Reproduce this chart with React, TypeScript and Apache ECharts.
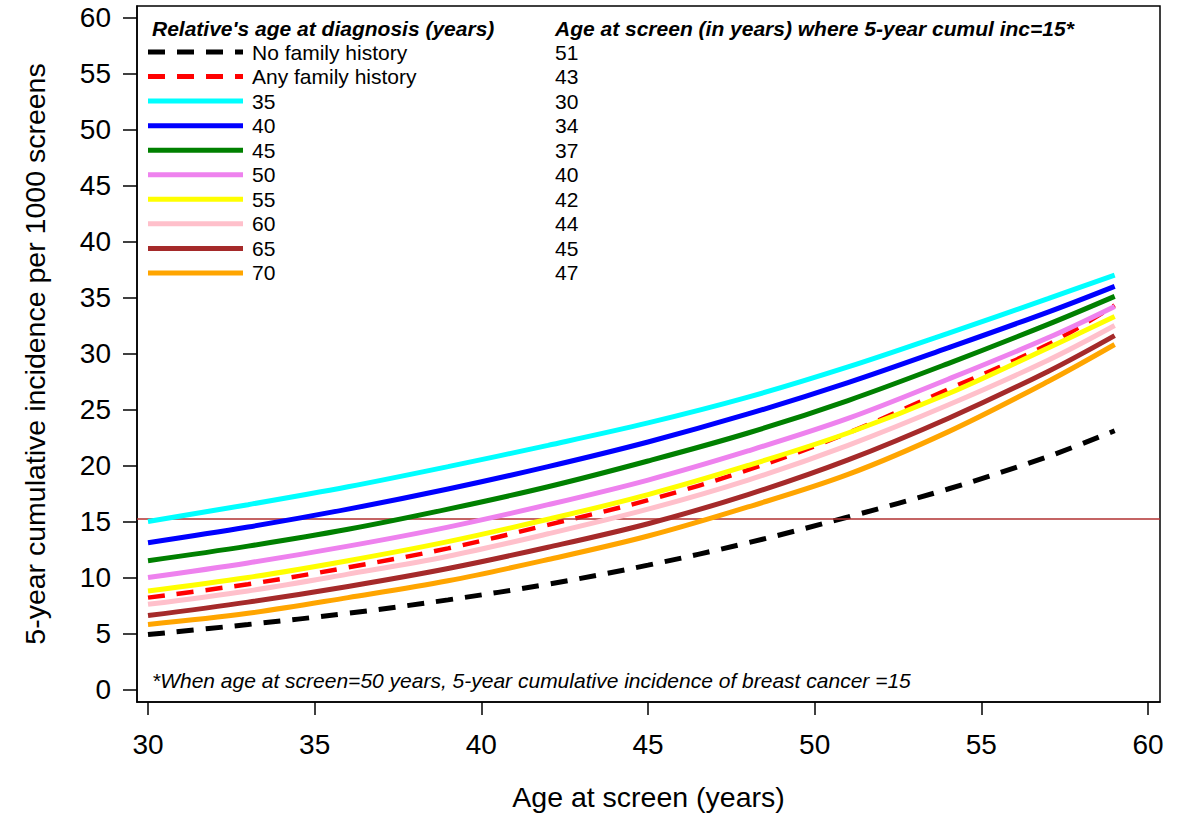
import React, { useEffect, useRef } from "react";
import * as echarts from "echarts";

// Age at screen (years) at which values were read
const ages = [30, 33, 36, 39, 42, 45, 48, 51, 54, 57, 59];

// 5-year cumulative incidence per 1000 screens
const noFamilyHistory = [4.9, 5.8, 6.8, 8.0, 9.4, 11.1, 13.1, 15.4, 17.9, 20.8, 23.1];
const anyFamilyHistory = [8.2, 9.4, 10.9, 12.6, 14.7, 16.9, 19.6, 22.9, 26.8, 30.8, 34.3];
const rel35 = [15.0, 16.5, 18.1, 19.9, 21.8, 23.8, 26.1, 28.8, 31.8, 34.9, 37.0];
const rel40 = [13.1, 14.5, 16.1, 17.9, 19.9, 22.1, 24.6, 27.4, 30.5, 33.7, 36.0];
const rel45 = [11.5, 12.8, 14.3, 16.1, 18.1, 20.4, 22.9, 25.8, 29.1, 32.6, 35.1];
const rel50 = [10.0, 11.3, 12.8, 14.5, 16.5, 18.7, 21.3, 24.2, 27.7, 31.4, 34.2];
const rel55 = [8.8, 10.0, 11.5, 13.2, 15.2, 17.4, 20.0, 22.9, 26.4, 30.5, 33.3];
const rel60 = [7.6, 8.8, 10.3, 11.9, 13.9, 16.1, 18.7, 21.8, 25.4, 29.4, 32.5];
const rel65 = [6.6, 7.8, 9.2, 10.8, 12.7, 14.8, 17.4, 20.5, 24.2, 28.4, 31.6];
const rel70 = [5.8, 6.8, 8.2, 9.7, 11.6, 13.7, 16.3, 19.2, 23.0, 27.5, 30.8];

const seriesNames = [
  "No family history",
  "Any family history",
  "35",
  "40",
  "45",
  "50",
  "55",
  "60",
  "65",
  "70",
];
const seriesValues = [
  noFamilyHistory,
  anyFamilyHistory,
  rel35,
  rel40,
  rel45,
  rel50,
  rel55,
  rel60,
  rel65,
  rel70,
];
// Age at screen where 5-year cumulative incidence = 15
const crossingAges = ["51", "43", "30", "34", "37", "40", "42", "44", "45", "47"];

const threshold = 15.2;
const xTicks = [30, 35, 40, 45, 50, 55, 60];
const yTicks = [0, 5, 10, 15, 20, 25, 30, 35, 40, 45, 50, 55, 60];

const colors = [
  "#000000",
  "#FF0000",
  "#00FFFF",
  "#0000FF",
  "#008000",
  "#EE82EE",
  "#FFFF00",
  "#FFC0CB",
  "#A52A2A",
  "#FFA500",
];
const dashed = [true, true, false, false, false, false, false, false, false, false];

const FONT = '"Liberation Sans", Arial, Helvetica, sans-serif';

export default function App() {
  const ref = useRef<HTMLDivElement>(null);

  useEffect(() => {
    if (!ref.current) return;
    const chart = echarts.init(ref.current, null, { renderer: "svg" });

    const series: any[] = seriesValues.map((vals, i) => ({
      name: seriesNames[i],
      type: "line",
      data: ages.map((a, j) => [a, vals[j]]),
      smooth: 0.35,
      symbol: "none",
      lineStyle: {
        color: colors[i],
        width: dashed[i] ? (i === 0 ? 5 : 4.5) : 5,
        type: dashed[i] ? [17, 12] : "solid",
        cap: "butt",
      },
      z: 3 + i,
    }));

    series[0].markLine = {
      silent: true,
      symbol: ["none", "none"],
      label: { show: false },
      lineStyle: { color: "#B03030", width: 1.5, type: "solid" },
      data: [{ yAxis: threshold }],
    };

    const legendX0 = 148;
    const legendX1 = 243;
    const textX = 252;
    const col2X = 555;
    const headerY = 28;
    const rowY0 = 52;
    const rowStep = 24.55;

    const graphics: any[] = [
      {
        type: "text",
        x: 152,
        y: headerY,
        style: {
          text: "Relative's age at diagnosis (years)",
          font: `italic bold 21px ${FONT}`,
          fill: "#000",
          verticalAlign: "middle",
        },
      },
      {
        type: "text",
        x: col2X,
        y: headerY,
        style: {
          text: "Age at screen (in years) where 5-year cumul inc=15*",
          font: `italic bold 21px ${FONT}`,
          fill: "#000",
          verticalAlign: "middle",
        },
      },
      {
        type: "text",
        x: 152,
        y: 680,
        style: {
          text: "*When age at screen=50 years, 5-year cumulative incidence of breast cancer =15",
          font: `italic 21px ${FONT}`,
          fill: "#000",
          verticalAlign: "middle",
        },
      },
    ];

    seriesNames.forEach((nm, i) => {
      const y = rowY0 + i * rowStep;
      graphics.push({
        type: "line",
        shape: { x1: legendX0, y1: y, x2: legendX1, y2: y },
        style: {
          stroke: colors[i],
          lineWidth: 5,
          lineDash: dashed[i] ? [17, 12] : null,
        },
      });
      graphics.push({
        type: "text",
        x: textX,
        y: y,
        style: {
          text: nm,
          font: `21px ${FONT}`,
          fill: "#000",
          verticalAlign: "middle",
        },
      });
      graphics.push({
        type: "text",
        x: col2X,
        y: y,
        style: {
          text: crossingAges[i],
          font: `21px ${FONT}`,
          fill: "#000",
          verticalAlign: "middle",
        },
      });
    });

    chart.setOption({
      animation: false,
      backgroundColor: "#fff",
      grid: {
        left: 137,
        right: 17,
        top: 6,
        bottom: 114,
        show: true,
        borderColor: "#000",
        borderWidth: 1.5,
        backgroundColor: "transparent",
      },
      xAxis: {
        type: "value",
        min: 29.67,
        max: 60.36,
        name: "Age at screen (years)",
        nameLocation: "middle",
        nameGap: 80,
        nameTextStyle: { fontFamily: FONT, fontSize: 28.5, color: "#000" },
        axisLine: { show: true, onZero: false, lineStyle: { color: "#000", width: 1.5 } },
        axisTick: {
          show: true,
          inside: false,
          length: 13,
          customValues: xTicks,
          lineStyle: { color: "#000", width: 1.5 },
        },
        axisLabel: {
          customValues: xTicks,
          margin: 28,
          fontFamily: FONT,
          fontSize: 28,
          color: "#000",
        },
        splitLine: { show: false },
      },
      yAxis: {
        type: "value",
        min: -1.12,
        max: 61.03,
        name: "5-year cumulative incidence per 1000 screens",
        nameLocation: "middle",
        nameGap: 88,
        nameRotate: 90,
        nameTextStyle: { fontFamily: FONT, fontSize: 28.5, color: "#000" },
        axisLine: { show: true, onZero: false, lineStyle: { color: "#000", width: 1.5 } },
        axisTick: {
          show: true,
          inside: false,
          length: 14,
          customValues: yTicks,
          lineStyle: { color: "#000", width: 1.5 },
        },
        axisLabel: {
          customValues: yTicks,
          margin: 26,
          fontFamily: FONT,
          fontSize: 28,
          color: "#000",
        },
        splitLine: { show: false },
      },
      series,
      graphic: graphics,
    });

    return () => {
      chart.dispose();
    };
  }, []);

  return (
    <div
      ref={ref}
      style={{
        position: "fixed",
        left: 0,
        top: 0,
        width: 1177,
        height: 816,
        background: "#fff",
      }}
    />
  );
}
